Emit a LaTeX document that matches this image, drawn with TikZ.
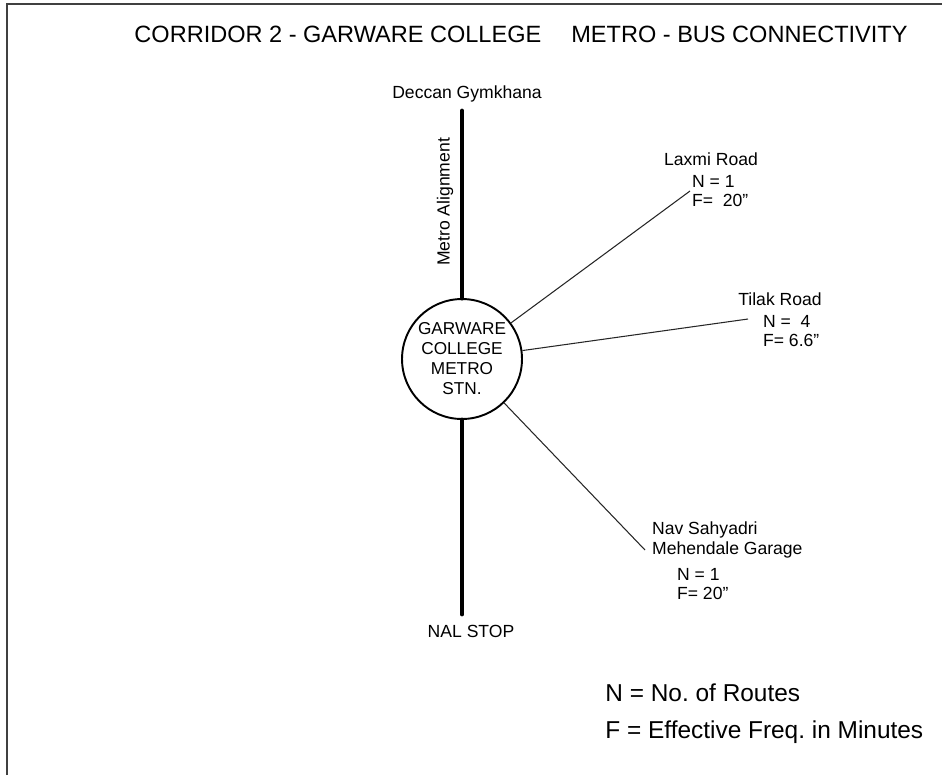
\documentclass[tikz,border=0pt]{standalone}
\usepackage{fontspec}
\setmainfont{Liberation Sans}
\usetikzlibrary{positioning}
\frenchspacing

\begin{document}
\begin{tikzpicture}[x=0.02cm, y=-0.02cm,
    stn/.style = {draw, circle, line width=1.1pt, minimum size=2.4cm, inner sep=0pt, align=center, font=\fontsize{9.8}{11.4}\selectfont},
    lbl/.style = {inner sep=1pt, font=\fontsize{10}{10.9}\selectfont},
    nf/.style = {lbl, anchor=west, align=left},
    metro/.style = {line width=2.8pt, line cap=round},
    bus/.style = {line width=0.6pt, black!85}]
    \useasboundingbox (0,0) rectangle (942,775);
    \draw[line width=1.1pt, black!75] (7,775) -- (7,4) -- (942,4);
    \node[font=\fontsize{13.4}{16}\selectfont] (T) at (521,34) {CORRIDOR 2 - GARWARE COLLEGE \quad METRO - BUS CONNECTIVITY};
    % station and metro line
    \node[stn] (S) at (462,359) {GARWARE\\COLLEGE\\METRO\\STN.};
    \node[lbl] (DG) at (467,94) {Deccan Gymkhana}; \node[lbl] (NS) at (471,631) {NAL STOP};
    \coordinate (m1) at (462,111); \coordinate (m2) at (462,614);
    \draw[metro] (m1) -- (S); \draw[metro] (S) -- (m2);
    \node[lbl, rotate=90] (MA) at (445,202) {Metro Alignment};
    % bus routes
    \node[lbl] (LR) at (711,159) {Laxmi Road}; \node[nf] (LRn) at (690,191) {N = 1\\F=\ \ 20''};
    \node[lbl] (TR) at (780,299) {Tilak Road}; \node[nf] (TRn) at (761,331) {N = \ 4\\F= 6.6''};
    \node[lbl, anchor=west, align=left] (NR) at (650,540) {Nav Sahyadri\\Mehendale Garage}; \node[nf] (NRn) at (675,584) {N = 1\\F=\ 20''};
    \coordinate (t1) at (748,319); \coordinate (n1) at (645,550);
    \draw[bus] (S) -- (LRn.west); \draw[bus] (S) -- (t1); \draw[bus] (S) -- (n1);
    % legend
    \node[font=\fontsize{13.9}{16}\selectfont, anchor=west, inner sep=0pt] (K1) at (605,693) {N = No. of Routes};
    \node[font=\fontsize{13.9}{16}\selectfont, anchor=west, inner sep=0pt] (K2) at (605,732) {F = Effective Freq. in Minutes};
\end{tikzpicture}
\end{document}
